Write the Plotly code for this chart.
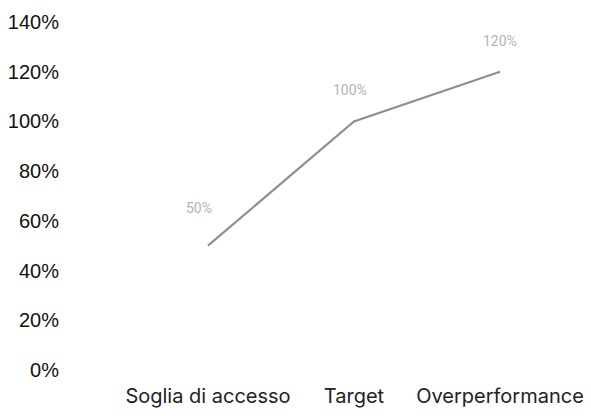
import plotly.graph_objects as go

categories = ["Soglia di accesso", "Target", "Overperformance"]
values = [50, 100, 120]
value_labels = ["50%", "100%", "120%"]
y_ticks = [0, 20, 40, 60, 80, 100, 120, 140]
y_tick_labels = ["0%", "20%", "40%", "60%", "80%", "100%", "120%", "140%"]

fig = go.Figure()
fig.add_trace(go.Scatter(
    x=[0, 1, 2], y=values, mode="lines",
    line=dict(color="#8f8f8f", width=2.2),
    hoverinfo="skip", showlegend=False,
))
label_shift = [(-9, 38), (-4, 31), (0, 31)]
for i, (v, t) in enumerate(zip(values, value_labels)):
    fig.add_annotation(x=i, y=v, text=t, showarrow=False,
                       xshift=label_shift[i][0], yshift=label_shift[i][1],
                       font=dict(family="Roboto", size=14, color="#b4b4b4"))

fig.update_layout(
    width=583, height=408,
    margin=dict(l=55, r=18, t=14, b=46),
    paper_bgcolor="white", plot_bgcolor="white",
    font=dict(family="Inter", size=20, color="#222"),
)
fig.update_xaxes(
    range=[-0.993, 2.5], tickvals=[0, 1, 2], ticktext=categories,
    showgrid=False, zeroline=False, showline=False, automargin=False,
    ticks="", ticklabelstandoff=12,
    tickfont=dict(family="Inter", size=20, color="#222"),
)
fig.update_yaxes(
    range=[0, 140], tickvals=y_ticks, ticktext=y_tick_labels,
    showgrid=False, zeroline=False, showline=False, automargin=False,
    ticks="", ticklabelstandoff=3,
    tickfont=dict(family="Liberation Sans", size=20, color="#111"),
)
fig.write_html("out.html")
